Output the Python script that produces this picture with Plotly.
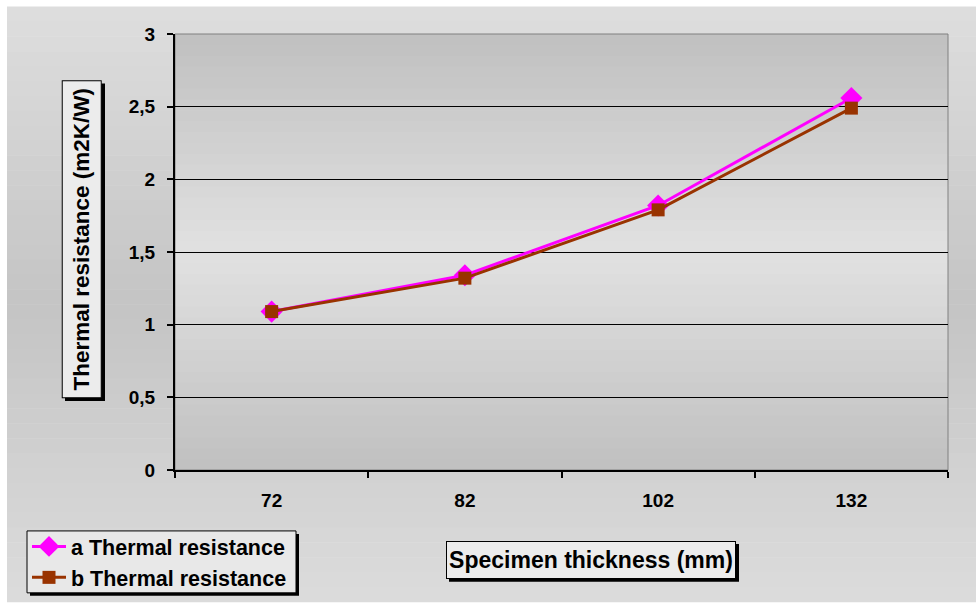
import plotly.graph_objects as go

categories = ["72", "82", "102", "132"]
series_a = [1.09, 1.34, 1.82, 2.56]
series_b = [1.09, 1.32, 1.79, 2.49]
y_ticks = [0, 0.5, 1, 1.5, 2, 2.5, 3]
y_tick_text = ["0", "0,5", "1", "1,5", "2", "2,5", "3"]

W, H = 976, 603
L, R, T, B = 175, 28, 33.5, 133
PW, PH = W - L - R, H - T - B

def px(x):
    return (x - L) / PW

def py(y):
    return (H - B - y) / PH

FONT = "Liberation Sans, Arial, sans-serif"

fig = go.Figure()
fig.add_trace(go.Scatter(
    x=categories, y=series_a, name="a Thermal resistance", mode="lines+markers",
    line=dict(color="#FF00FF", width=3),
    marker=dict(symbol="diamond", size=17, color="#FF00FF"),
))
fig.add_trace(go.Scatter(
    x=categories, y=series_b, name="b Thermal resistance", mode="lines+markers",
    line=dict(color="#993300", width=3),
    marker=dict(symbol="square", size=13, color="#993300"),
))

shapes = []

def grad(v0, v1, v2, t):
    if t < 0.5:
        v = v0 + (v1 - v0) * t / 0.5
    else:
        v = v1 + (v2 - v1) * (t - 0.5) / 0.5
    v = int(round(v))
    return f"rgb({v},{v},{v})"

def prect(x0, y0, x1, y1, **kw):
    d = dict(type="rect", xref="paper", yref="paper", layer="below",
             x0=px(x0), x1=px(x1), y0=py(y1), y1=py(y0))
    d.update(kw)
    return d

# outer background (chart area) with vertical gradient
oy0, oy1 = 6, 602
ox0, ox1 = 7, 976
n = 40
for i in range(n):
    ya = oy0 + (oy1 - oy0) * i / n
    yb = oy0 + (oy1 - oy0) * (i + 1) / n + 0.5
    shapes.append(prect(ox0, ya, ox1, yb, line=dict(width=0),
                        fillcolor=grad(222, 196, 220, (i + 0.5) / n)))
# plot area gradient
for i in range(n):
    ya = T + PH * i / n
    yb = T + PH * (i + 1) / n + 0.5
    shapes.append(prect(L, ya, L + PW, yb, line=dict(width=0),
                        fillcolor=grad(192, 225, 192, (i + 0.5) / n)))
# plot area border (top/right gray)
shapes.append(dict(type="rect", xref="paper", yref="paper", layer="below",
                   x0=0, x1=1, y0=0, y1=1, line=dict(color="#808080", width=1)))

# boxes: legend, y-title, x-title (shadows drawn as shapes)
lx0, lx1, ly0, ly1 = 27, 296, 531, 593
yt_x0, yt_x1, yt_y0, yt_y1 = 62, 102, 80, 398
xt_x0, xt_x1, xt_y0, xt_y1 = 446, 736, 541, 579
for (a, b, c, d) in [(lx0, ly0, lx1, ly1), (yt_x0, yt_y0, yt_x1, yt_y1),
                     (xt_x0, xt_y0, xt_x1, xt_y1)]:
    shapes.append(prect(a + 3, b + 3, c + 3, d + 3, line=dict(width=0), fillcolor="black"))
# legend box
shapes.append(prect(lx0, ly0, lx1, ly1, line=dict(color="black", width=1), fillcolor="#e8e8e8"))

annotations = [
    dict(text="Thermal resistance (m2K/W)", xref="paper", yref="paper",
         x=px((yt_x0 + yt_x1) / 2), y=py((yt_y0 + yt_y1) / 2),
         xanchor="center", yanchor="middle", showarrow=False, textangle=-90,
         width=yt_y1 - yt_y0 - 2, height=yt_x1 - yt_x0 - 2,
         font=dict(family=FONT, size=22.5, color="black", weight="bold"),
         bgcolor="#ececec", bordercolor="black", borderwidth=1, borderpad=0),
    dict(text="Specimen thickness (mm)", xref="paper", yref="paper",
         x=px((xt_x0 + xt_x1) / 2), y=py((xt_y0 + xt_y1) / 2),
         xanchor="center", yanchor="middle", showarrow=False,
         width=xt_x1 - xt_x0 - 2, height=xt_y1 - xt_y0 - 2,
         font=dict(family=FONT, size=23, color="black", weight="bold"),
         bgcolor="#ececec", bordercolor="black", borderwidth=1, borderpad=0),
]

fig.update_layout(
    width=W, height=H,
    margin=dict(l=L, r=R, t=T, b=B, pad=0, autoexpand=False),
    paper_bgcolor="white",
    plot_bgcolor="rgba(0,0,0,0)",
    font=dict(family=FONT, size=19, color="black", weight="bold"),
    shapes=shapes,
    annotations=annotations,
    showlegend=True,
    legend=dict(
        x=px(lx0), y=py(526), xanchor="left", yanchor="top",
        bgcolor="rgba(0,0,0,0)", borderwidth=0,
        font=dict(family=FONT, size=21.5, color="black", weight="bold"),
        tracegroupgap=0, itemwidth=34,
    ),
    xaxis=dict(
        type="category", range=[-0.5, 3.5], tickson="boundaries",
        ticks="outside", ticklen=6, tickwidth=2, tickcolor="black",
        showline=True, linecolor="black", linewidth=2, showgrid=False,
        ticklabelstandoff=12, zeroline=False,
        tickfont=dict(family=FONT, size=19, color="black", weight="bold"),
    ),
    yaxis=dict(
        range=[0, 3], tickvals=y_ticks, ticktext=y_tick_text,
        ticks="outside", ticklen=6, tickwidth=2, tickcolor="black",
        showline=True, linecolor="black", linewidth=2,
        showgrid=True, gridcolor="black", gridwidth=1, zeroline=False,
        ticklabelstandoff=8,
        tickfont=dict(family=FONT, size=19, color="black", weight="bold"),
    ),
)

fig.write_html("out.html")
